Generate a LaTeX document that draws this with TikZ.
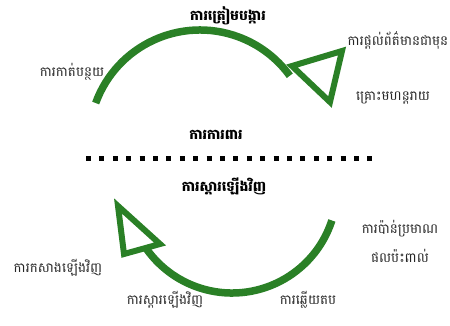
\documentclass[tikz,border=0pt]{standalone}
\usepackage{fontspec}
\usepackage{xcolor}
\usepackage{tikz}
\usetikzlibrary{arrows.meta, positioning, calc}
\newfontfamily\khmerfont[Script=Khmer]{Battambang}
\definecolor{cyclegreen}{RGB}{42,128,38}
\tikzset{
  steptext/.style={font=\khmerfont\fontsize{13.5}{15}\selectfont, text=black!85, inner sep=1pt},
  phasetext/.style={font=\khmerfont\bfseries\fontsize{14}{16}\selectfont, text=black, inner sep=1pt},
  cyclearc/.style={cyclegreen, line width=7.5pt},
  cycletip/.style={cyclegreen, line width=6pt, line join=miter}
}
\begin{document}
\begin{tikzpicture}[x=1pt, y=-1pt]
      \useasboundingbox (0,0) rectangle (450,325);
      % Upper cycle: preparedness
      \draw[cyclearc] (200,141) ++(-160:111) arc[start angle=-160, end angle=-36, radius=111];
      \draw[cycletip] (292,66) -- (342,51) -- (330,102) -- cycle;
      \node[steptext] (warn) at (398,40) {ការផ្តល់ព័ត៌មានជាមុន};
      \node[phasetext] (prep) at (228,16) {ការត្រៀមបង្ការ};
      \node[steptext] (mitig) at (72,72) {ការកាត់បន្ថយ};
      \node[steptext] (disaster) at (393,98) {គ្រោះមហន្តរាយ};
      \node[phasetext] (protect) at (216,135) {ការការពារ};
      
      % Dotted separator
      \coordinate (sepL) at (86,158);
      \coordinate (sepR) at (376,158);
      \draw[black, line width=5pt, dash pattern=on 5pt off 8.4pt] (sepL) -- (sepR);
      
      % Lower cycle: recovery
      \node[phasetext] (recov) at (224,186) {ការស្តារឡើងវិញ};
      \draw[cyclearc] (232,188) ++(18:105) arc[start angle=18, end angle=146, radius=105];
      \draw[cycletip] (118,206) -- (160,244) -- (124,254) -- cycle;
      \node[steptext] (assess1) at (400,229) {ការប៉ាន់ប្រមាណ};
      \node[steptext] (assess2) at (400,256) {ផលប៉ះពាល់};
      \node[steptext] (rebuild) at (58,268) {ការកសាងឡើងវិញ};
      \node[steptext] (rehab) at (165,300) {ការស្តារឡើងវិញ};
      \node[steptext] (respond) at (308,300) {ការឆ្លើយតប};
\end{tikzpicture}
\end{document}
